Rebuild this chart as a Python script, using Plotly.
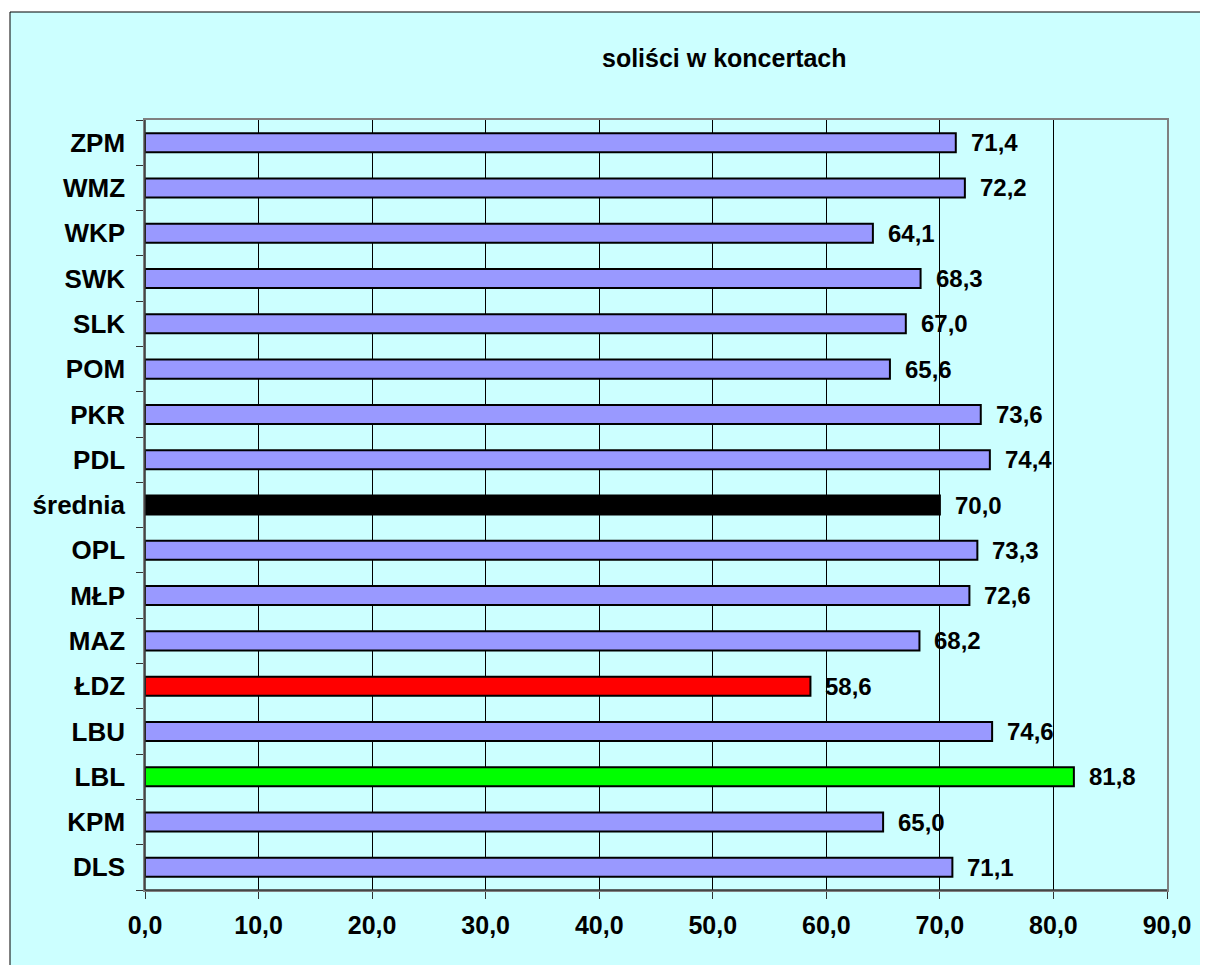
import plotly.graph_objects as go

categories = ["DLS", "KPM", "LBL", "LBU", "ŁDZ", "MAZ", "MŁP", "OPL", "średnia",
              "PDL", "PKR", "POM", "SLK", "SWK", "WKP", "WMZ", "ZPM"]
values = [71.1, 65.0, 81.8, 74.6, 58.6, 68.2, 72.6, 73.3, 70.0,
          74.4, 73.6, 65.6, 67.0, 68.3, 64.1, 72.2, 71.4]
special_colors = {"średnia": "#000000", "ŁDZ": "#FF0000", "LBL": "#00FF00"}
x_ticks = [0, 10, 20, 30, 40, 50, 60, 70, 80, 90]
title = "soliści w koncertach"

# page body has an 8px margin; figure is offset by (8, 8)
OFF = 8
W, H = 1208 - OFF, 965 - OFF
ML, MT = 145 - OFF, 120 - OFF
PW, PH = 1022, 770
MR, MB = W - ML - PW, H - MT - PH

colors = [special_colors.get(c, "#9999FF") for c in categories]
FONT = "Liberation Sans, Arial, sans-serif"

fig = go.Figure(go.Bar(
    y=categories, x=values, orientation="h",
    marker=dict(color=colors, line=dict(color="#000000", width=2)),
    hoverinfo="skip",
))

annotations = [
    dict(x=v, y=c, xref="x", yref="y", text=f"{v:.1f}".replace(".", ","),
         showarrow=False, xanchor="left", yanchor="middle", xshift=13,
         font=dict(family=FONT, size=24, color="#000000", weight="bold"))
    for c, v in zip(categories, values)
]
annotations.append(dict(
    x=(724 - OFF - ML) / PW, y=1 + (MT - (58 - OFF)) / PH, xref="paper", yref="paper",
    text=title, showarrow=False, xanchor="center", yanchor="middle",
    font=dict(family=FONT, size=25, color="#000000", weight="bold")))

shapes = [
    # outer chart area
    dict(type="rect", xref="paper", yref="paper", layer="below",
         x0=(10 - OFF - ML) / PW, x1=(W + 20 - ML) / PW,
         y0=-(MB + 20) / PH, y1=1 + (MT - (12 - OFF)) / PH,
         fillcolor="#CCFFFF", line=dict(color="#000000", width=1)),
    # left and bottom axis lines, dark
    dict(type="line", xref="paper", yref="paper", x0=0, x1=0, y0=0, y1=1,
         line=dict(color="#333333", width=1.5)),
    dict(type="line", xref="paper", yref="paper", x0=0, x1=1, y0=0, y1=0,
         line=dict(color="#333333", width=1.5)),
]

fig.update_layout(
    width=W, height=H,
    margin=dict(l=ML, r=MR, t=MT, b=MB, pad=0),
    paper_bgcolor="#FFFFFF", plot_bgcolor="#CCFFFF",
    separators=", ",
    showlegend=False,
    bargap=0.58,
    annotations=annotations,
    shapes=shapes,
    font=dict(family=FONT, color="#000000"),
)
fig.update_xaxes(
    range=[0, 90], tickvals=x_ticks, tickformat=".1f",
    showgrid=True, gridcolor="#000000", gridwidth=1,
    showline=True, linecolor="#808080", linewidth=1.5, mirror=True,
    ticks="outside", ticklen=7, tickcolor="#333333", tickwidth=1,
    ticklabelstandoff=5,
    tickfont=dict(family=FONT, size=25, color="#000000", weight="bold"),
    zeroline=False, fixedrange=True,
)
fig.update_yaxes(
    type="category", categoryorder="array", categoryarray=categories,
    tickson="boundaries", showgrid=False,
    showline=True, linecolor="#808080", linewidth=1.5, mirror=True,
    ticks="outside", ticklen=7, tickcolor="#333333", tickwidth=1,
    ticklabelstandoff=13,
    tickfont=dict(family=FONT, size=26, color="#000000", weight="bold"),
    zeroline=False, fixedrange=True,
)

fig.write_html("out.html")
